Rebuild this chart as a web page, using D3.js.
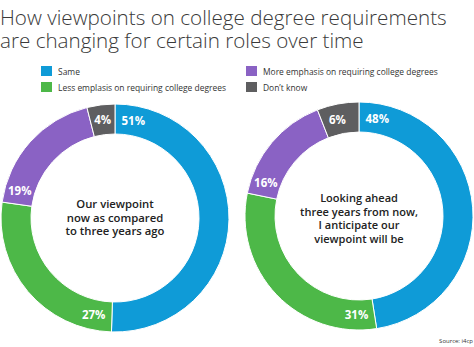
<!DOCTYPE html>
<html><head><meta charset="utf-8">
<script src="https://cdn.jsdelivr.net/npm/d3@7"></script>
<style>
html,body{margin:0;padding:0;background:#fff;}
svg{display:block;font-family:"Open Sans",sans-serif;}
</style></head>
<body>
<svg id="chart" width="474" height="347"></svg>
<script>
const titleLines = ["How viewpoints on college degree requirements", "are changing for certain roles over time"];
const categories = ["Same", "Less emplasis on requiring college degrees", "More emphasis on requiring college degrees", "Don\u2019t know"];
const colors = ["#0f9bd7", "#4db848", "#8a62c4", "#5e5e60"];
const nowValues = [51, 27, 19, 4];
const futureValues = [48, 31, 16, 6];
const nowCaption = ["Our viewpoint", "now as compared", "to three years ago"];
const futureCaption = ["Looking ahead", "three years from now,", "I anticipate our", "viewpoint will be"];
const sourceText = "Source: i4cp";

const svg = d3.select("#chart");

// fit a text element's font-size so that its width equals target
function fitWidth(sel, target, base) {
  sel.attr("font-size", base);
  const w = sel.node().getComputedTextLength();
  const fs = base * target / w;
  sel.attr("font-size", fs);
  return fs;
}

// Title
const t1 = svg.append("text").attr("x", 0).attr("y", 25)
  .attr("font-weight", 300).attr("fill", "#3a3a3a").text(titleLines[0]);
const tfs = fitWidth(t1, 447, 22);
svg.append("text").attr("x", 0).attr("y", 48).attr("font-size", tfs)
  .attr("font-weight", 300).attr("fill", "#3a3a3a").text(titleLines[1]);

// Legend
const legendPos = [[41, 66], [41, 82], [246, 66], [246, 82]];
const lg = svg.append("g").selectAll("g").data(categories).join("g")
  .attr("transform", (d, i) => `translate(${legendPos[i][0]},${legendPos[i][1]})`);
lg.append("rect").attr("width", 11).attr("height", 10).attr("fill", (d, i) => colors[i]);
const lt = lg.append("text").attr("x", 17).attr("y", 8.8).attr("fill", "#333").text(d => d);
const lfs = fitWidth(d3.select(lt.nodes()[2]), 175, 9);
lt.attr("font-size", lfs);

function donut(values, caption, cx, cy, capBase, refLine, refWidth) {
  const outer = 114, inner = 84, mid = (outer + inner) / 2;
  const g = svg.append("g").attr("transform", `translate(${cx},${cy})`);
  const pie = d3.pie().sort(null).value(d => d);
  const arcs = pie(values);
  const arc = d3.arc().innerRadius(inner).outerRadius(outer);
  g.selectAll("path").data(arcs).join("path")
    .attr("d", arc).attr("fill", (d, i) => colors[i])
    .attr("stroke", "#fff").attr("stroke-width", 1);
  // labels placed near the start of each segment
  const lab = g.selectAll("text.lab").data(arcs).join("text").attr("class", "lab")
    .attr("text-anchor", "middle").attr("font-size", 11.5).attr("font-weight", 700)
    .attr("fill", "#fff").text(d => d.data + "%");
  lab.each(function(d) {
    const w = this.getComputedTextLength(), h = 9;
    let th = d.startAngle;
    for (let k = 0; k < 3; k++) {
      const half = (w / 2) * Math.abs(Math.cos(th)) + (h / 2) * Math.abs(Math.sin(th));
      th = d.startAngle + (half + 6) / mid;
    }
    const span = d.endAngle - d.startAngle;
    if (th > d.startAngle + span / 2) th = d.startAngle + span / 2;
    const x = Math.sin(th) * mid, y = -Math.cos(th) * mid;
    d3.select(this).attr("x", x).attr("y", y + 4.2);
  });
  const cap = g.selectAll("text.cap").data(caption).join("text").attr("class", "cap")
    .attr("text-anchor", "middle").attr("font-weight", 600).attr("fill", "#222")
    .attr("x", 0).text(d => d);
  const cfs = fitWidth(d3.select(cap.nodes()[refLine]), refWidth, 11);
  cap.attr("font-size", cfs).attr("y", (d, i) => capBase + i * 13.7);
}
donut(nowValues, nowCaption, 115, 218, -10, 2, 99);
donut(futureValues, futureCaption, 359, 216, -14, 1, 118);

svg.append("text").attr("x", 473).attr("y", 343).attr("text-anchor", "end")
  .attr("font-size", 6).attr("fill", "#333").text(sourceText);
</script>
</body></html>
